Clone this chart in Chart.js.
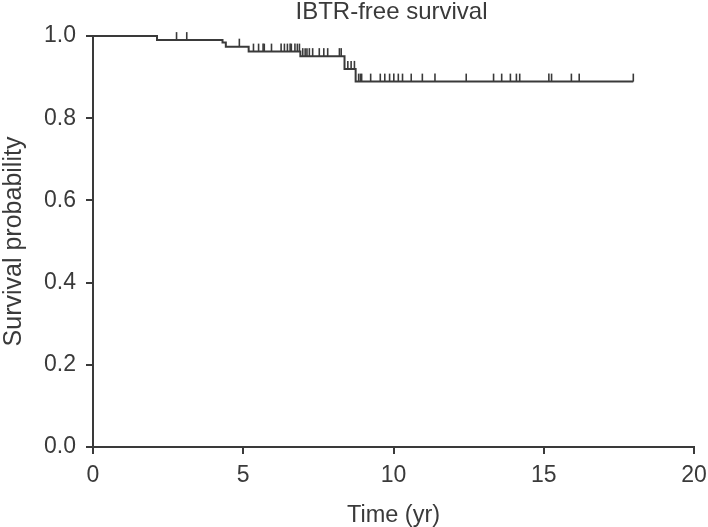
<!DOCTYPE html>
<html>
<head>
<meta charset="utf-8">
<script src="https://cdn.jsdelivr.net/npm/chart.js@4/dist/chart.umd.min.js"></script>
<style>
	html, body { margin: 0; padding: 0; background: #fff; }
	#wrap { width: 708px; height: 527px; position: relative; }
</style>
</head>
<body>
<div id="wrap"><canvas id="km"></canvas></div>
<script>
(() => {
	'use strict'

	// Kaplan-Meier steps: time (yr) where survival drops, and the new level
	const stepTimes = [0, 2.13, 4.31, 4.42, 5.18, 6.9, 8.37, 8.74]
	const stepSurv = [1.0, 0.99, 0.984, 0.974, 0.962, 0.951, 0.92, 0.889]
	const lastTime = 17.98

	// censored observations (tick marks)
	const censorTimes = [
		2.78, 3.12,
		4.87,
		5.34, 5.51, 5.66, 5.70, 5.94, 6.26, 6.37, 6.47, 6.56, 6.60, 6.72, 6.80, 6.87,
		6.98, 7.06, 7.12, 7.20, 7.31, 7.53, 7.68, 7.81, 8.20, 8.26,
		8.48, 8.59, 8.70,
		8.84, 8.90, 8.94, 9.24, 9.56, 9.71, 9.87, 10.01, 10.16, 10.30, 10.59,
		10.96, 11.38, 12.42, 13.33, 13.60, 13.89, 14.09, 14.20, 15.17, 15.26,
		15.92, 16.18, 17.98
	]

	const xTicks = [0, 5, 10, 15, 20]
	const yTicks = [0, 0.2, 0.4, 0.6, 0.8, 1.0]
	const chartTitle = 'IBTR-free survival'
	const xTitle = 'Time (yr)'
	const yTitle = 'Survival probability'

	const ink = '#3a3a3a'
	const font = '"Liberation Sans", Arial, Helvetica, sans-serif'

	const survAt = (t) => {
		let s = stepSurv[0]
		for (let i = 0; i < stepTimes.length; i++) {
			if (stepTimes[i] <= t) s = stepSurv[i]
		}
		return s
	}

	const curve = stepTimes.map((t, i) => ({ x: t, y: stepSurv[i] }))
	curve.push({ x: lastTime, y: survAt(lastTime) })
	const censored = censorTimes.map(t => ({ x: t, y: survAt(t) }))

	// title centred over the plot area
	const titlePlugin = {
		id: 'plotTitle',
		afterDraw(chart) {
			const { ctx, chartArea } = chart
			ctx.save()
			ctx.font = '24px ' + font
			ctx.fillStyle = ink
			ctx.textAlign = 'center'
			ctx.textBaseline = 'alphabetic'
			ctx.fillText(chartTitle, (chartArea.left + chartArea.right) / 2 - 2, 19)
			ctx.restore()
		}
	}

	Chart.defaults.font.family = font
	Chart.defaults.color = ink

	new Chart(document.getElementById('km'), {
		type: 'line',
		data: {
			datasets: [{
				data: curve,
				stepped: 'before',
				borderColor: ink,
				borderWidth: 2,
				pointRadius: 0,
				fill: false,
				clip: false
			}, {
				type: 'scatter',
				data: censored,
				showLine: false,
				pointStyle: 'dash',
				rotation: -90,
				pointRadius: 8,
				pointHoverRadius: 8,
				borderColor: ink,
				borderWidth: 1.6,
				backgroundColor: ink,
				clip: false
			}]
		},
		options: {
			responsive: true,
			maintainAspectRatio: false,
			animation: false,
			devicePixelRatio: 1,
			layout: { padding: { top: 36, right: 14, left: 0, bottom: 0 } },
			plugins: {
				legend: { display: false },
				tooltip: { enabled: false }
			},
			scales: {
				x: {
					type: 'linear',
					min: 0,
					max: 20,
					afterBuildTicks: (s) => { s.ticks = xTicks.map(v => ({ value: v })) },
					afterFit: (s) => { s.height = 80; s.paddingRight = 0; s.paddingLeft = 0 },
					ticks: { font: { size: 23 }, color: ink, padding: 8 },
					grid: { drawOnChartArea: false, drawTicks: true, tickLength: 7, color: ink, lineWidth: 2 },
					border: { color: ink, width: 2 },
					title: { display: true, text: xTitle, font: { size: 23.5, lineHeight: 1 }, color: ink, padding: { top: 0, bottom: 0 } }
				},
				y: {
					min: 0,
					max: 1,
					afterBuildTicks: (s) => { s.ticks = yTicks.map(v => ({ value: v })) },
					afterFit: (s) => { s.width = 93; s.paddingTop = 0; s.paddingBottom = 0 },
					ticks: { font: { size: 23 }, color: ink, padding: 10, callback: (v) => Number(v).toFixed(1) },
					grid: { drawOnChartArea: false, drawTicks: true, tickLength: 7, color: ink, lineWidth: 2 },
					border: { color: ink, width: 2 },
					title: { display: true, text: yTitle, font: { size: 25, lineHeight: 1.1 }, color: ink, padding: { top: 0, bottom: 0 } }
				}
			}
		},
		plugins: [titlePlugin]
	})
})()
</script>
</body>
</html>
